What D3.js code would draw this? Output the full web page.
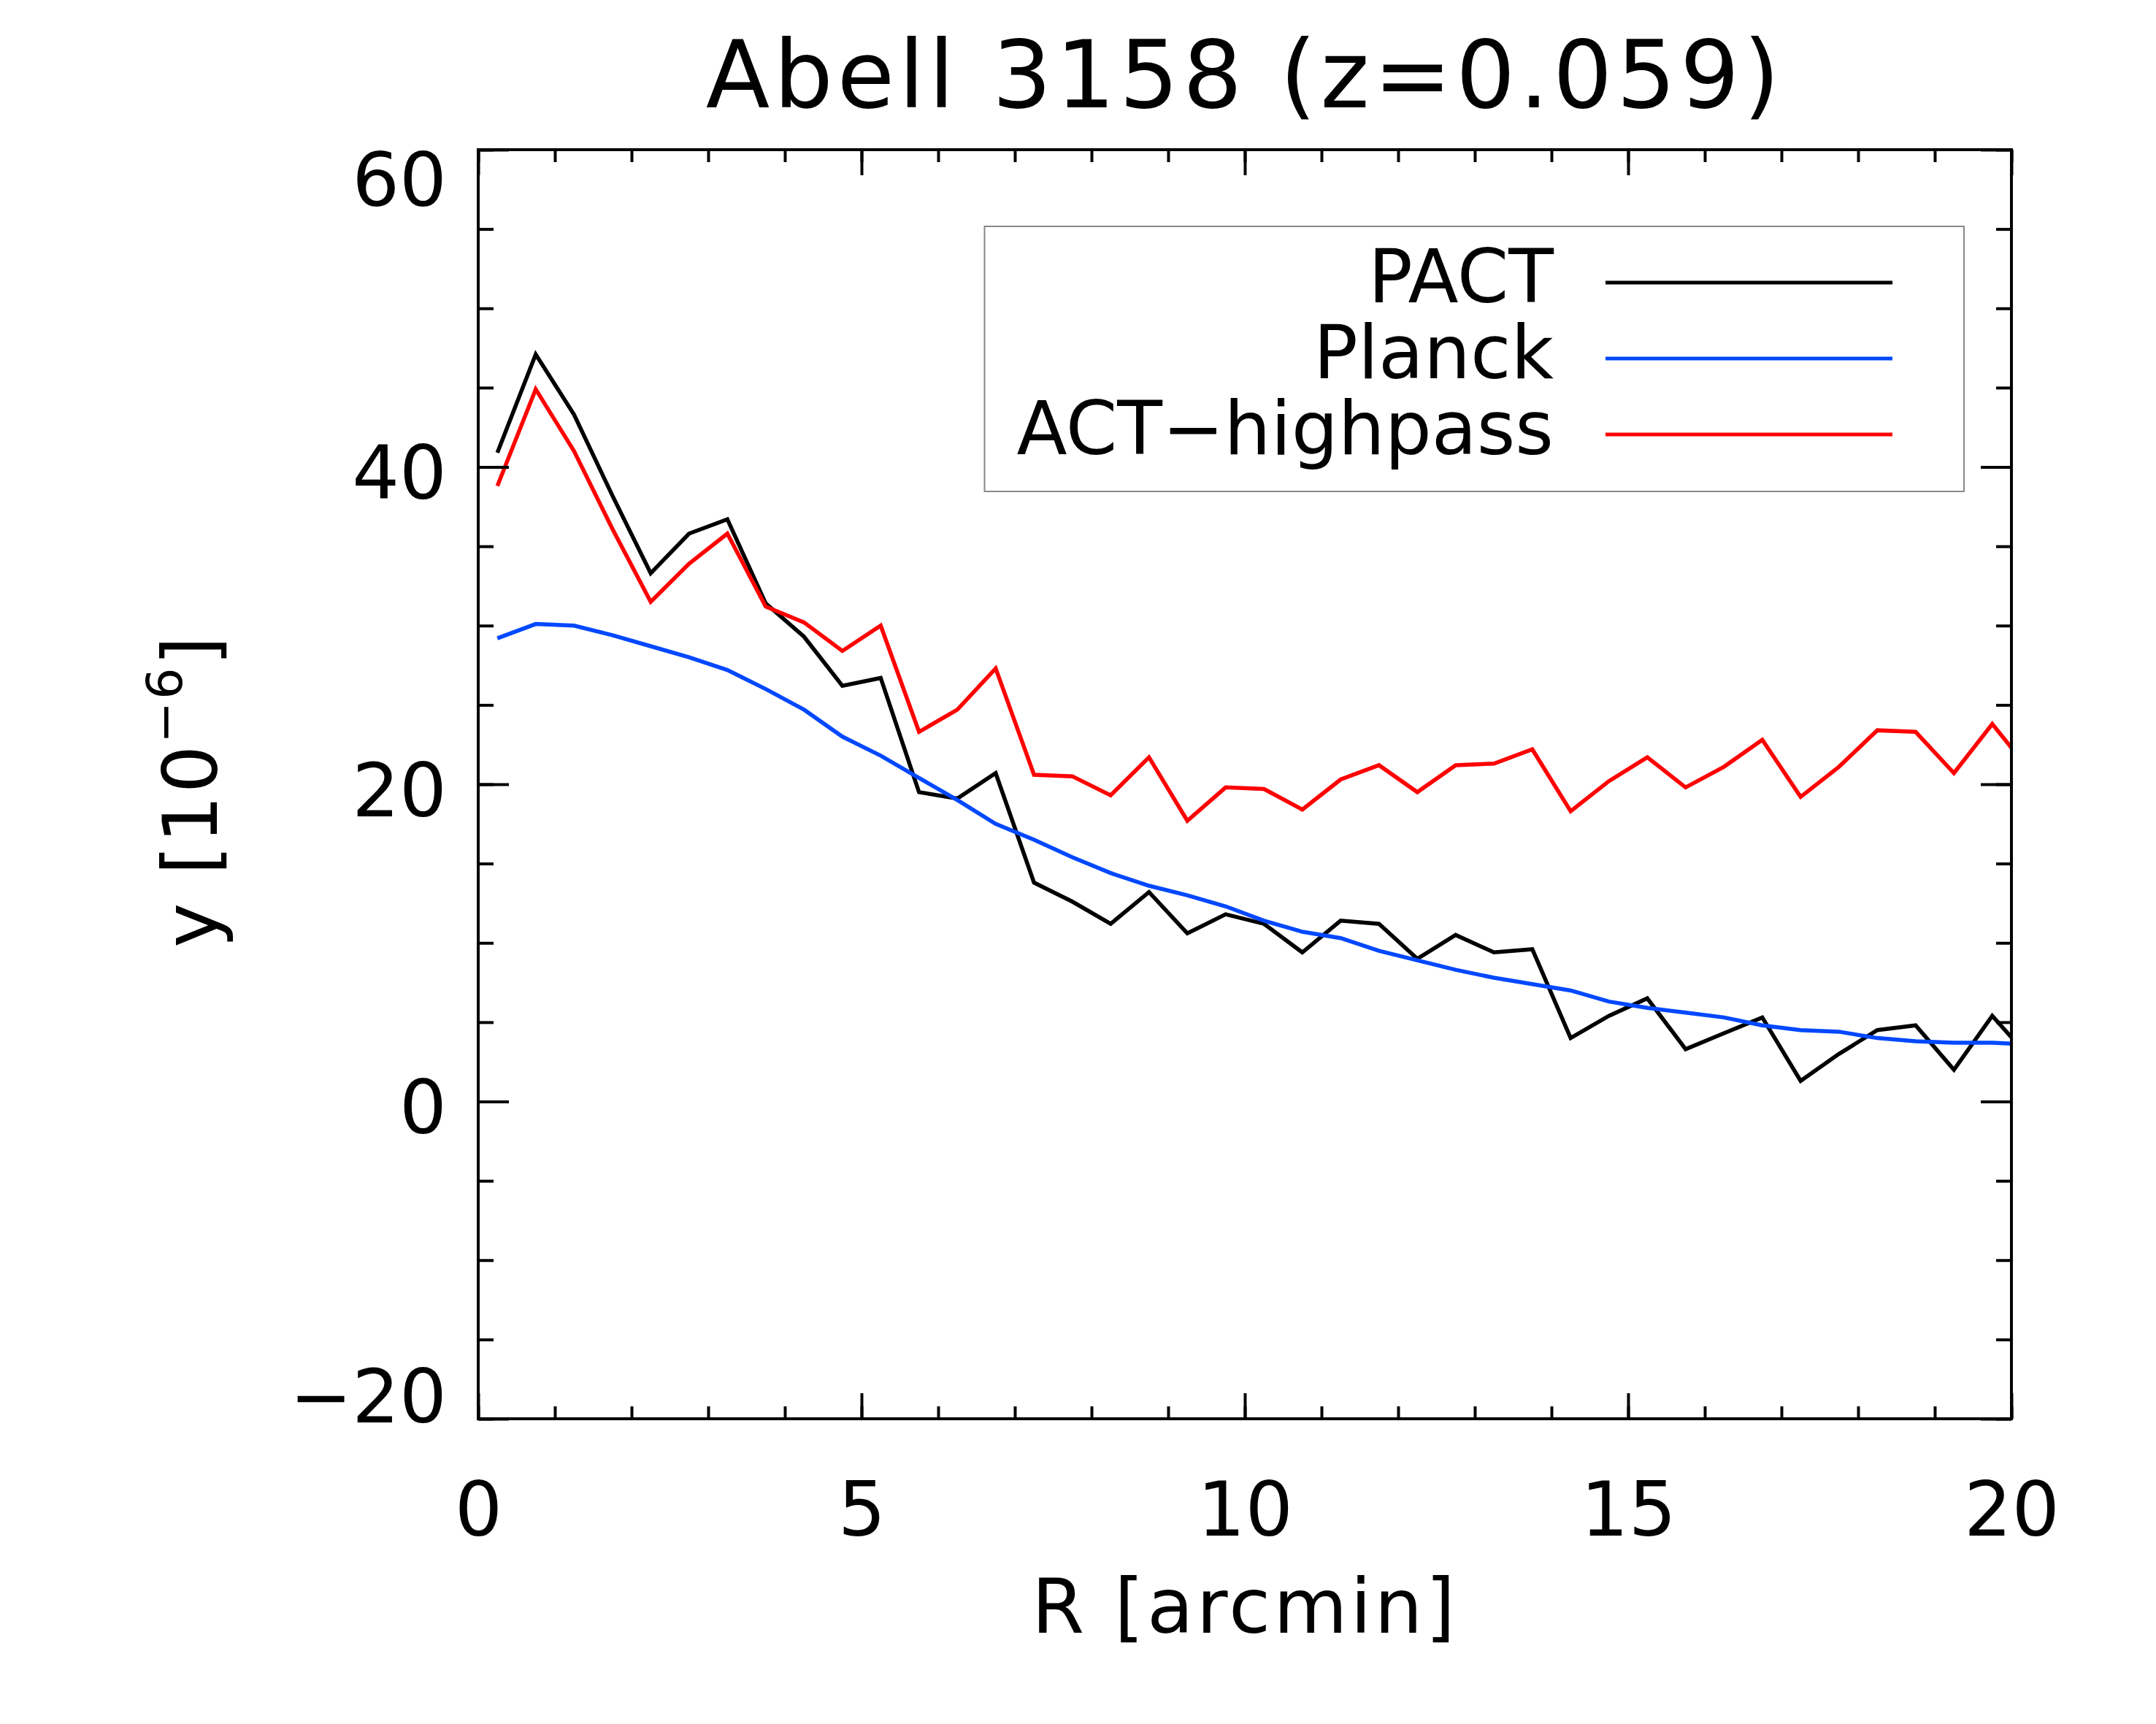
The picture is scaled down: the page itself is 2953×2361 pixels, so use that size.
<!DOCTYPE html>
<html>
<head>
<meta charset="utf-8">
<script src="https://cdn.jsdelivr.net/npm/d3@7"></script>
<style>
  body { margin: 0; background: #fff; }
  text { font-family: "DejaVu Sans", sans-serif; fill: #000; }
</style>
</head>
<body>
<svg id="chart"></svg>
<script>
// radial bins (arcmin) and the three y profiles, in units of 1e-6
const radius = [0.25, 0.75, 1.25, 1.75, 2.25, 2.75, 3.25, 3.75, 4.25, 4.75,
    5.25, 5.75, 6.25, 6.75, 7.25, 7.75, 8.25, 8.75, 9.25, 9.75,
    10.25, 10.75, 11.25, 11.75, 12.25, 12.75, 13.25, 13.75, 14.25, 14.75,
    15.25, 15.75, 16.25, 16.75, 17.25, 17.75, 18.25, 18.75, 19.25, 19.75, 20.25];

const pact = [40.9, 47.1, 43.3, 38.2, 33.3, 35.8, 36.7, 31.4, 29.3, 26.2,
    26.7, 19.5, 19.1, 20.7, 13.8, 12.6, 11.2, 13.2, 10.6, 11.8,
    11.2, 9.4, 11.4, 11.2, 9.0, 10.5, 9.4, 9.6, 4.0, 5.4,
    6.5, 3.3, 4.3, 5.3, 1.3, 3.0, 4.5, 4.8, 2.0, 5.4, 2.7];

const planck = [29.2, 30.1, 30.0, 29.4, 28.7, 28.0, 27.2, 26.0, 24.7, 23.0,
    21.8, 20.4, 19.0, 17.5, 16.5, 15.4, 14.4, 13.6, 13.0, 12.3,
    11.4, 10.7, 10.3, 9.5, 8.9, 8.3, 7.8, 7.4, 7.0, 6.3,
    5.9, 5.6, 5.3, 4.8, 4.5, 4.4, 4.0, 3.8, 3.7, 3.7, 3.6];

const actHighpass = [38.8, 44.9, 41.0, 36.1, 31.5, 33.9, 35.8, 31.2, 30.2, 28.4,
    30.0, 23.3, 24.7, 27.3, 20.6, 20.5, 19.3, 21.7, 17.7, 19.8,
    19.7, 18.4, 20.3, 21.2, 19.5, 21.2, 21.3, 22.2, 18.3, 20.2,
    21.7, 19.8, 21.1, 22.8, 19.2, 21.1, 23.4, 23.3, 20.7, 23.8, 20.8];

const seriesNames = ["PACT", "Planck", "ACT\u2212highpass"];
const seriesColors = ["#000000", "#0048ff", "#ff0000"];

const xTicks = [0, 5, 10, 15, 20];
const yTicks = [-20, 0, 20, 40, 60];
const xMinor = d3.range(0, 21, 1);
const yMinor = d3.range(-20, 61, 5);

const W = 2953, H = 2361;
const margin = {top: 205, right: 198, bottom: 418, left: 655};
const width = W - margin.left - margin.right;
const height = H - margin.top - margin.bottom;

const x = d3.scaleLinear().domain([0, 20]).range([0, width]);
const y = d3.scaleLinear().domain([-20, 60]).range([height, 0]);

const svg = d3.select("#chart").attr("width", W).attr("height", H);
svg.append("rect").attr("width", W).attr("height", H).attr("fill", "#fff");

const g = svg.append("g").attr("transform", `translate(${margin.left}, ${margin.top})`);

g.append("clipPath").attr("id", "plot-clip")
    .append("rect").attr("width", width).attr("height", height);

// profiles
const line = d3.line().x(d => x(d[0])).y(d => y(d[1]));
[pact, planck, actHighpass].forEach((vals, i) => {
    g.append("path")
        .datum(d3.zip(radius, vals))
        .attr("clip-path", "url(#plot-clip)")
        .attr("fill", "none")
        .attr("stroke", seriesColors[i])
        .attr("stroke-width", 5.5)
        .attr("stroke-linejoin", "miter")
        .attr("d", line);
});

function tidy(sel) {
    sel.select(".domain").remove();
    sel.selectAll("line").attr("stroke", "#000").attr("stroke-width", 4);
    sel.attr("font-family", null).attr("font-size", null);
}

// minor ticks on all four sides
g.append("g").attr("transform", `translate(0, ${height})`)
    .call(d3.axisBottom(x).tickValues(xMinor).tickSize(-17).tickFormat("")).call(tidy);
g.append("g")
    .call(d3.axisTop(x).tickValues(xMinor).tickSize(-17).tickFormat("")).call(tidy);
g.append("g")
    .call(d3.axisLeft(y).tickValues(yMinor).tickSize(-21).tickFormat("")).call(tidy);
g.append("g").attr("transform", `translate(${width}, 0)`)
    .call(d3.axisRight(y).tickValues(yMinor).tickSize(-21).tickFormat("")).call(tidy);

// major ticks
const xAxis = g.append("g").attr("transform", `translate(0, ${height})`)
    .call(d3.axisBottom(x).tickValues(xTicks).tickSize(-35).tickFormat(d3.format("d")))
    .call(tidy);
xAxis.selectAll("text").attr("y", 160).attr("dy", 0).attr("font-size", 103);

g.append("g")
    .call(d3.axisTop(x).tickValues(xTicks).tickSize(-35).tickFormat("")).call(tidy);

const yAxis = g.append("g")
    .call(d3.axisLeft(y).tickValues(yTicks).tickSize(-42).tickPadding(43).tickFormat(d3.format("d")))
    .call(tidy);
yAxis.selectAll("text")
    .attr("dy", 0)
    .attr("font-size", 102)
    .attr("y", d => d === 60 ? 76 : (d === -20 ? 4 : 43));

g.append("g").attr("transform", `translate(${width}, 0)`)
    .call(d3.axisRight(y).tickValues(yTicks).tickSize(-42).tickFormat("")).call(tidy);

// frame
g.append("rect")
    .attr("width", width).attr("height", height)
    .attr("fill", "none").attr("stroke", "#000").attr("stroke-width", 4);

// title and axis labels
svg.append("text")
    .attr("x", margin.left + width / 2).attr("y", 147)
    .attr("text-anchor", "middle").attr("font-size", 128)
    .attr("letter-spacing", 5.5)
    .text("Abell 3158 (z=0.059)");

svg.append("text")
    .attr("x", margin.left + width / 2).attr("y", 2236)
    .attr("text-anchor", "middle").attr("font-size", 104)
    .attr("letter-spacing", 4)
    .text("R [arcmin]");

const yLabel = svg.append("text")
    .attr("transform", `translate(297, 1083) rotate(-90)`)
    .attr("text-anchor", "middle").attr("font-size", 103)
    .attr("letter-spacing", 3);
yLabel.append("tspan").text("y [10");
yLabel.append("tspan").attr("font-size", 68).attr("dy", -48).text("\u22126");
yLabel.append("tspan").attr("dy", 48).text("]");

// legend
const legend = svg.append("g");
legend.append("rect")
    .attr("x", 1348.5).attr("y", 310).attr("width", 1341.5).attr("height", 363)
    .attr("fill", "#fff").attr("stroke", "#888").attr("stroke-width", 2);

seriesNames.forEach((name, i) => {
    legend.append("text")
        .attr("x", 2128).attr("y", 414 + 104 * i)
        .attr("text-anchor", "end").attr("font-size", 101)
        .text(name);
    legend.append("line")
        .attr("x1", 2199).attr("x2", 2592)
        .attr("y1", 387 + 104 * i).attr("y2", 387 + 104 * i)
        .attr("stroke", seriesColors[i]).attr("stroke-width", 5);
});
</script>
</body>
</html>
